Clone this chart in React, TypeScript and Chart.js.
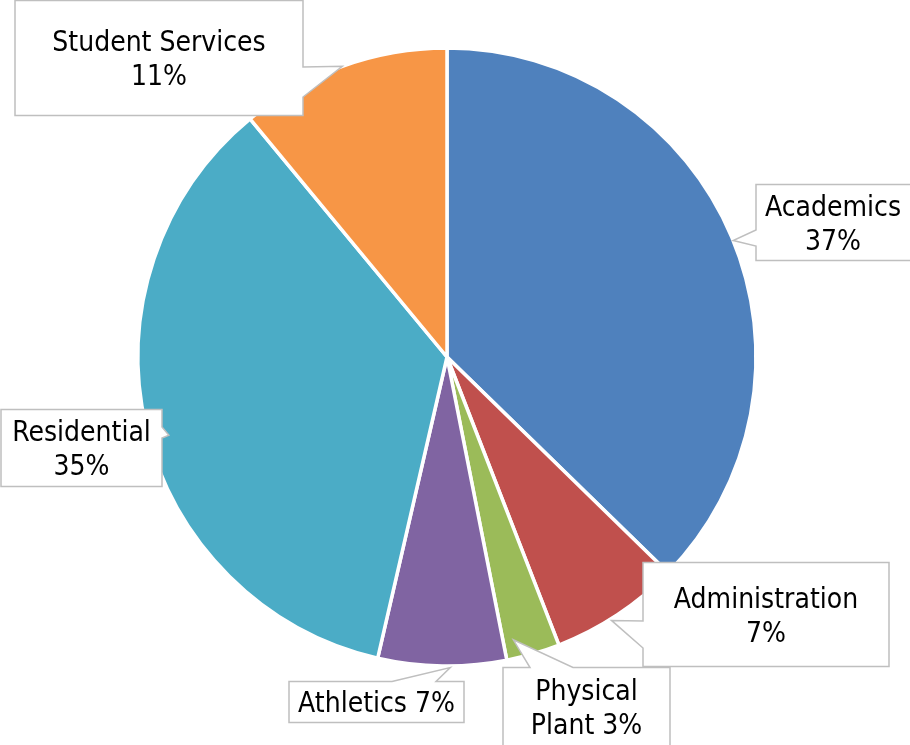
import { useEffect, useRef } from "react";
import { Chart, registerables } from "chart.js";

Chart.register(...registerables);

// ---- data ----
const categories = ["Academics", "Administration", "Physical Plant", "Athletics", "Residential", "Student Services"];
const shares = [37.3, 6.8, 2.8, 6.7, 35.4, 11.0];
const colors = ["#4F81BD", "#C0504D", "#9BBB59", "#8064A2", "#4BACC6", "#F79646"];

// ---- callout layout (annotation boxes, one per category, same order) ----
type Side = "left" | "right" | "top";
interface Callout {
  box: [number, number, number, number]; // x0, y0, x1, y1
  side: Side;
  base: [number, number]; // pointer base along the side
  tipRadius: number; // fraction of outer radius
  tipShiftDeg: number; // shift from slice mid angle
  wrap: number; // max text width
}
const callouts: Callout[] = [
  { box: [756, 184.5, 912, 260.5], side: "left", base: [230, 246], tipRadius: 1.0, tipShiftDeg: 0.7, wrap: 140 },
  { box: [643, 562.5, 889, 666.5], side: "left", base: [621, 648], tipRadius: 1.005, tipShiftDeg: 1.5, wrap: 200 },
  { box: [503, 667.5, 670, 750], side: "top", base: [530, 573], tipRadius: 0.94, tipShiftDeg: 3, wrap: 150 },
  { box: [289, 681.5, 464, 722.5], side: "top", base: [392, 436], tipRadius: 1.005, tipShiftDeg: -1.5, wrap: 200 },
  { box: [1, 409.5, 162, 486.5], side: "right", base: [427, 438], tipRadius: 0.935, tipShiftDeg: -2.4, wrap: 150 },
  { box: [15, 0.5, 303, 115.5], side: "right", base: [67, 97], tipRadius: 1.0, tipShiftDeg: 0, wrap: 250 },
];

const FONT = "28px 'DejaVu Sans Condensed', 'DejaVu Sans', sans-serif";
const LINE_H = 34;
const TEXT_DY = 3;

function wrapText(ctx: CanvasRenderingContext2D, text: string, maxW: number): string[] {
  const words = text.split(" ");
  const lines: string[] = [];
  let cur = "";
  for (const w of words) {
    const test = cur ? cur + " " + w : w;
    if (cur && ctx.measureText(test).width > maxW) {
      lines.push(cur);
      cur = w;
    } else cur = test;
  }
  if (cur) lines.push(cur);
  return lines;
}

const calloutPlugin = {
  id: "callouts",
  afterDraw(chart: any) {
    const ctx: CanvasRenderingContext2D = chart.ctx;
    const meta = chart.getDatasetMeta(0);
    const total = shares.reduce((a, b) => a + b, 0);
    ctx.save();
    ctx.font = FONT;
    meta.data.forEach((arc: any, i: number) => {
      const c = callouts[i];
      if (!c) return;
      const p = arc.getProps(["x", "y", "startAngle", "endAngle", "outerRadius"], true);
      const mid = (p.startAngle + p.endAngle) / 2 + (c.tipShiftDeg * Math.PI) / 180;
      const r = p.outerRadius * c.tipRadius;
      const tx = p.x + Math.cos(mid) * r;
      const ty = p.y + Math.sin(mid) * r;
      const [x0, y0, x1, y1] = c.box;
      const [b1, b2] = c.base;
      ctx.beginPath();
      if (c.side === "left") {
        ctx.moveTo(x0, y0);
        ctx.lineTo(x1, y0);
        ctx.lineTo(x1, y1);
        ctx.lineTo(x0, y1);
        ctx.lineTo(x0, b2);
        ctx.lineTo(tx, ty);
        ctx.lineTo(x0, b1);
      } else if (c.side === "right") {
        ctx.moveTo(x0, y0);
        ctx.lineTo(x1, y0);
        ctx.lineTo(x1, b1);
        ctx.lineTo(tx, ty);
        ctx.lineTo(x1, b2);
        ctx.lineTo(x1, y1);
        ctx.lineTo(x0, y1);
      } else {
        ctx.moveTo(x0, y0);
        ctx.lineTo(b1, y0);
        ctx.lineTo(tx, ty);
        ctx.lineTo(b2, y0);
        ctx.lineTo(x1, y0);
        ctx.lineTo(x1, y1);
        ctx.lineTo(x0, y1);
      }
      ctx.closePath();
      ctx.fillStyle = "#FFFFFF";
      ctx.fill();
      ctx.lineWidth = 1.5;
      ctx.strokeStyle = "#BFBFBF";
      ctx.stroke();

      const pct = Math.round((shares[i] / total) * 100);
      const text = `${categories[i]} ${pct}%`;
      const lines = wrapText(ctx, text, c.wrap);
      const cx = (x0 + Math.min(x1, 910)) / 2;
      const cy = (y0 + Math.min(y1, 745)) / 2 + TEXT_DY;
      ctx.fillStyle = "#000000";
      ctx.textAlign = "center";
      ctx.textBaseline = "middle";
      const startY = cy - ((lines.length - 1) * LINE_H) / 2;
      lines.forEach((ln, k) => ctx.fillText(ln, cx, startY + k * LINE_H));
    });
    ctx.restore();
  },
};

export default function App() {
  const ref = useRef<HTMLCanvasElement | null>(null);
  useEffect(() => {
    document.body.style.margin = "0";
    if (!ref.current) return;
    const chart = new Chart(ref.current, {
      type: "pie",
      data: {
        labels: categories,
        datasets: [
          {
            data: shares,
            backgroundColor: colors,
            borderColor: "#FFFFFF",
            borderWidth: 3.5,
            radius: 309,
          } as any,
        ],
      },
      options: {
        responsive: false,
        animation: false,
        devicePixelRatio: 1,
        layout: { padding: { left: 138, right: 154, top: 48, bottom: 79 } },
        plugins: { legend: { display: false }, tooltip: { enabled: false } },
      },
      plugins: [calloutPlugin],
    });
    return () => chart.destroy();
  }, []);
  return (
    <div style={{ width: 910, height: 745 }}>
      <canvas ref={ref} width={910} height={745} />
    </div>
  );
}
